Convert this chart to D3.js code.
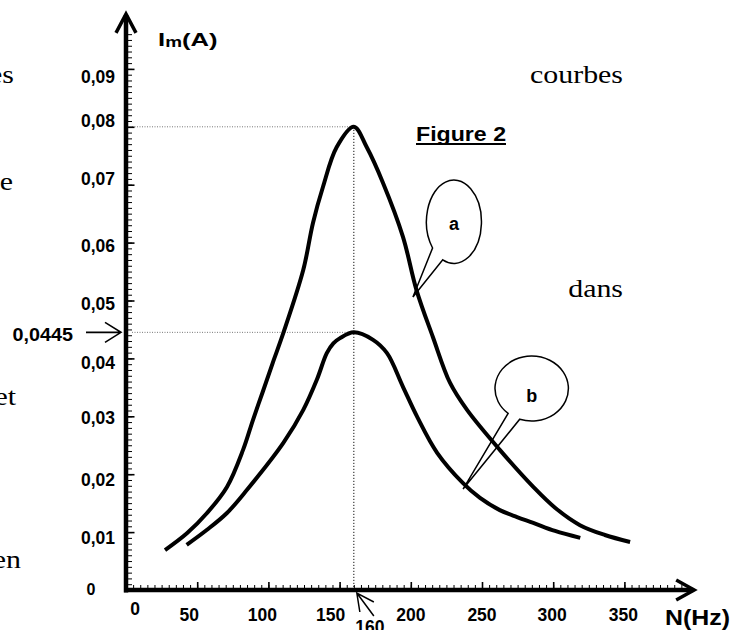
<!DOCTYPE html>
<html>
<head>
<meta charset="utf-8">
<script src="https://cdn.jsdelivr.net/npm/d3@7"></script>
<style>
  body { margin: 0; background: #fff; }
  svg { display: block; }
  text { font-family: "Liberation Sans", Arial, sans-serif; font-weight: bold; fill: #000; }
  .serif { font-family: "Liberation Serif", "Times New Roman", serif; font-weight: normal; }
</style>
</head>
<body>
<div id="chart"></div>
<script>
// curve a (higher peak)
var freqA = [27.4, 42.8, 56.9, 70.9, 82.2, 89.2, 96, 103, 110.5, 124.5, 131.3, 138.3, 148, 160, 169, 180.5, 194.5, 204, 215.5, 227.5, 239.5, 262.5, 286, 301.3, 318.8, 336.3, 354];
var currA = [0.0069, 0.0098, 0.0133, 0.0178, 0.0242, 0.0294, 0.0342, 0.0392, 0.0444, 0.0553, 0.0634, 0.0696, 0.0765, 0.080, 0.0765, 0.0703, 0.061, 0.0518, 0.0437, 0.0358, 0.0311, 0.0242, 0.0178, 0.0142, 0.0112, 0.0095, 0.0083];

// curve b (lower peak)
var freqB = [42.6, 56.9, 70.9, 85, 110.5, 124.5, 134, 141, 145.6, 150.3, 160, 173.5, 183.3, 194.5, 204.5, 218.5, 236.5, 248.6, 262.5, 274.6, 286, 301.3, 319];
var currB = [0.0078, 0.0104, 0.0133, 0.0173, 0.0254, 0.0311, 0.0363, 0.0409, 0.0426, 0.0435, 0.0445, 0.0432, 0.0409, 0.0351, 0.0299, 0.0237, 0.0185, 0.0159, 0.0138, 0.0126, 0.0116, 0.0102, 0.009];

var xTicks = [50, 100, 150, 200, 250, 300, 350];
var yTicks = [0.01, 0.02, 0.03, 0.04, 0.05, 0.06, 0.07, 0.08, 0.09];
var resonanceFreq = 160;
var peakA = 0.080;
var peakB = 0.0445;

// hand-placed label nudges (px) as in the original drawing
var xLabelNudge = [-8, -6, -9, 0, 0, -1, -1];
var yLabelNudge = [6, 6, 2, 5, 3.5, 3, -6, -5.5, 8];

var svgWidth = 744, svgHeight = 630;

var svg = d3.select("#chart").append("svg")
  .attr("width", svgWidth)
  .attr("height", svgHeight);

var x = d3.scaleLinear().domain([0, 350]).range([126, 624.4]);
var y = d3.scaleLinear().domain([0, 0.09]).range([590, 68.9]);

var fr = d3.formatLocale({ decimal: ",", thousands: " ", grouping: [3], currency: ["", ""] });
var fmt = fr.format(".2f");

// text fragments from the surrounding page
var pageText = [
  { t: "es", x: 14, y: 83 },
  { t: "e", x: 13, y: 190 },
  { t: "et", x: 16, y: 405 },
  { t: "en", x: 21, y: 568 },
  { t: "courbes", x: 623, y: 83 },
  { t: "dans", x: 623, y: 297 }
];
svg.selectAll(".serif").data(pageText).enter().append("text")
  .attr("class", "serif")
  .attr("transform", function(d) { return "translate(" + d.x + "," + d.y + ") scale(1.15,1)"; })
  .attr("text-anchor", "end")
  .attr("font-size", 26)
  .text(function(d) { return d.t; });

// dotted guides
var guides = svg.append("g").attr("fill", "none").attr("stroke-width", 1);
guides.append("line")
  .attr("x1", x(0) + 6).attr("x2", x(resonanceFreq))
  .attr("y1", y(peakA)).attr("y2", y(peakA))
  .attr("stroke", "#777").attr("stroke-dasharray", "1,1.5");
guides.append("line")
  .attr("x1", x(0) + 6).attr("x2", x(resonanceFreq))
  .attr("y1", y(peakB)).attr("y2", y(peakB))
  .attr("stroke", "#777").attr("stroke-dasharray", "1,1.5");
guides.append("line")
  .attr("x1", x(resonanceFreq)).attr("x2", x(resonanceFreq))
  .attr("y1", y(peakA)).attr("y2", y(0))
  .attr("stroke", "#111").attr("stroke-dasharray", "1.2,1.8");

// minor + major ticks
var yMinor = d3.range(1, 97).map(function(i) { return i / 1000; });
var xMinor = d3.range(5, 395, 5);

svg.append("g")
  .attr("transform", "translate(" + x(0) + ",0)")
  .call(d3.axisRight(y).tickValues(yMinor).tickSize(6).tickFormat(""))
  .call(function(g) { g.select(".domain").remove(); g.selectAll("line").attr("stroke-width", 1); });
svg.append("g")
  .attr("transform", "translate(" + x(0) + ",0)")
  .call(d3.axisRight(y).tickValues(yTicks).tickSize(8.5).tickFormat(""))
  .call(function(g) { g.select(".domain").remove(); g.selectAll("line").attr("stroke-width", 1.6); });

svg.append("g")
  .attr("transform", "translate(0," + y(0) + ")")
  .call(d3.axisTop(x).tickValues(xMinor).tickSize(5).tickFormat(""))
  .call(function(g) { g.select(".domain").remove(); g.selectAll("line").attr("stroke-width", 1); });
svg.append("g")
  .attr("transform", "translate(0," + y(0) + ")")
  .call(d3.axisTop(x).tickValues(xTicks).tickSize(8).tickFormat(""))
  .call(function(g) { g.select(".domain").remove(); g.selectAll("line").attr("stroke-width", 1.6); });

// axis lines with arrows
var yTop = y(0.0995), xEnd = x(399);
var axes = svg.append("g").attr("fill", "none").attr("stroke", "#000").attr("stroke-linecap", "butt");
axes.append("line").attr("x1", x(0)).attr("x2", x(0)).attr("y1", y(0) + 2.5).attr("y2", yTop + 1).attr("stroke-width", 4.5);
axes.append("polyline").attr("points", [[x(0) - 10, yTop + 19], [x(0), yTop], [x(0) + 10, yTop + 19]].join(" ")).attr("stroke-width", 3.5);
axes.append("line").attr("x1", x(0) - 2).attr("x2", xEnd - 1).attr("y1", y(0)).attr("y2", y(0)).attr("stroke-width", 4.5);
axes.append("polyline").attr("points", [[xEnd - 18, y(0) - 10], [xEnd, y(0)], [xEnd - 18, y(0) + 10]].join(" ")).attr("stroke-width", 3.5);

// tick labels
svg.selectAll(".ylab").data(yTicks).enter().append("text")
  .attr("class", "ylab")
  .attr("x", x(0) - 11)
  .attr("y", function(d, i) { return y(d) + yLabelNudge[i] + 6; })
  .attr("text-anchor", "end")
  .attr("font-size", 17.5)
  .text(function(d) { return fmt(d); });

svg.selectAll(".xlab").data(xTicks).enter().append("text")
  .attr("class", "xlab")
  .attr("x", function(d, i) { return x(d) + xLabelNudge[i]; })
  .attr("y", y(0) + 31)
  .attr("text-anchor", "middle")
  .attr("font-size", 17.5)
  .text(function(d) { return d; });

svg.append("text").attr("x", x(0) + 9).attr("y", y(0) + 25).attr("text-anchor", "middle").attr("font-size", 17.5).text("0");
svg.append("text").attr("x", x(0) - 35).attr("y", y(0) + 5).attr("text-anchor", "middle")
  .attr("font-size", 16).attr("font-weight", "normal").text("0");

// 160 marker
var f0 = x(resonanceFreq);
svg.append("text").attr("x", f0 + 16).attr("y", y(0) + 43).attr("text-anchor", "middle").attr("font-size", 17.5).text(resonanceFreq);
svg.append("path")
  .attr("d", "M" + (f0 + 20) + "," + (y(0) + 26) + "L" + (f0 + 3) + "," + (y(0) + 3) +
             "M" + (f0 + 20) + "," + (y(0) + 12) + "L" + (f0 + 3) + "," + (y(0) + 3) + "L" + (f0 + 6) + "," + (y(0) + 22))
  .attr("fill", "none").attr("stroke", "#000").attr("stroke-width", 1.5);

// 0,0445 marker
var yb = y(peakB);
svg.append("text").attr("transform", "translate(" + (x(0) - 53) + "," + (yb + 9) + ") scale(1.13,1)")
  .attr("text-anchor", "end").attr("font-size", 17.5).text(fr.format(".4f")(peakB));
svg.append("path")
  .attr("d", "M" + (x(0) - 40) + "," + yb + "L" + (x(0) - 5) + "," + yb +
             "M" + (x(0) - 21) + "," + (yb - 10) + "L" + (x(0) - 5) + "," + yb + "L" + (x(0) - 21) + "," + (yb + 10))
  .attr("fill", "none").attr("stroke", "#000").attr("stroke-width", 1.6);

// axis titles
var imLabel = svg.append("text").attr("transform", "translate(158,46) scale(1.35,1)").attr("font-size", 19);
imLabel.append("tspan").text("I");
imLabel.append("tspan").attr("font-size", 14).attr("dy", 1).text("m");
imLabel.append("tspan").attr("dy", -1).text("(A)");

svg.append("text").attr("x", 665).attr("y", 625).attr("font-size", 22)
  .attr("textLength", 65).attr("lengthAdjust", "spacingAndGlyphs").text("N(Hz)");

// figure title
svg.append("text").attr("x", 461).attr("y", 141).attr("text-anchor", "middle").attr("font-size", 20)
  .attr("textLength", 90).attr("lengthAdjust", "spacingAndGlyphs").text("Figure 2");
svg.append("line").attr("x1", 416).attr("x2", 506).attr("y1", 144).attr("y2", 144).attr("stroke", "#000").attr("stroke-width", 2);

// callout balloons
var balloons = [
  { name: "a", cf: 230.3, ci: 0.0636, rx: 27.5, ry: 41.7, t1: 141, t2: 114, tf: 201.5, ti: 0.0506, dy: 2 },
  { name: "b", cf: 284.9, ci: 0.0348, rx: 36.7, ry: 32.5, t1: 130, t2: 109, tf: 236.7, ti: 0.01744, dy: 7 }
];
function balloonPath(d) {
  var cx = x(d.cf), cy = y(d.ci);
  var a1 = d.t1 * Math.PI / 180, a2 = d.t2 * Math.PI / 180;
  var p1 = [cx + d.rx * Math.cos(a1), cy + d.ry * Math.sin(a1)];
  var p2 = [cx + d.rx * Math.cos(a2), cy + d.ry * Math.sin(a2)];
  return "M" + p1 + "A" + d.rx + "," + d.ry + " 0 1 1 " + p2 + "L" + [x(d.tf), y(d.ti)] + "Z";
}
var bg = svg.selectAll(".balloon").data(balloons).enter().append("g").attr("class", "balloon");
bg.append("path").attr("d", balloonPath).attr("fill", "#fff").attr("stroke", "#000").attr("stroke-width", 1.5).attr("stroke-linejoin", "miter");
bg.append("text")
  .attr("x", function(d) { return x(d.cf); })
  .attr("y", function(d) { return y(d.ci) + d.dy + 6; })
  .attr("text-anchor", "middle").attr("font-size", 18)
  .text(function(d) { return d.name; });

// resonance curves
var line = d3.line()
  .x(function(d) { return x(d[0]); })
  .y(function(d) { return y(d[1]); })
  .curve(d3.curveCatmullRom.alpha(0.5));

svg.append("path").datum(d3.zip(freqA, currA))
  .attr("d", line).attr("fill", "none").attr("stroke", "#000").attr("stroke-width", 4);
svg.append("path").datum(d3.zip(freqB, currB))
  .attr("d", line).attr("fill", "none").attr("stroke", "#000").attr("stroke-width", 4);
</script>
</body>
</html>
